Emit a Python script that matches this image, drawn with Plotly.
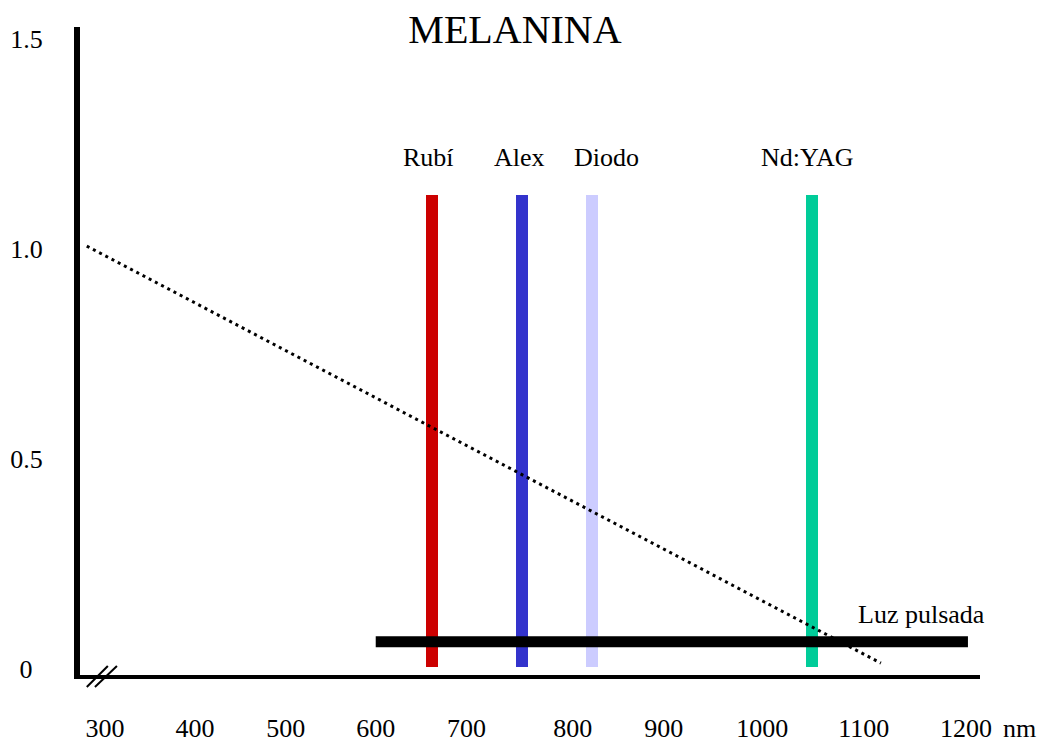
import plotly.graph_objects as go

# Lasers (schematic wavelength positions, nm) and their colours
laser_names = ["Rubí", "Alex", "Diodo", "Nd:YAG"]
laser_nm = [642, 736, 809, 1039]
laser_label_nm = [638, 733, 824, 1034]
laser_colors = ["#cc0000", "#3333cc", "#ccccff", "#00cc99"]
laser_low = [0.005, 0.005, 0.005, 0.005]
laser_high = [1.129, 1.129, 1.129, 1.129]

# Melanin absorption (dotted)
mel_nm = [281, 1111]
mel_abs = [1.007, 0.014]

# Intense pulsed light band
ipl_nm = [583, 1202]
ipl_level = [0.065, 0.065]
ipl_label = "Luz pulsada"

# Axes
x_tick_labels = ["300", "400", "500", "600", "700", "800", "900", "1000", "1100", "1200"]
x_tick_pos = [300, 394, 489, 583, 678, 789, 884, 987, 1093, 1200]
y_tick_vals = [0, 0.5, 1.0, 1.5]
y_tick_labels = ["0\u2009\u2009", "0.5", "1.0", "1.5"]

FONT = "Liberation Serif"

fig = go.Figure()

fig.add_trace(go.Bar(
    x=laser_nm,
    y=[h - l for h, l in zip(laser_high, laser_low)],
    base=laser_low,
    width=12.5,
    marker=dict(color=laser_colors, line=dict(width=0)),
    showlegend=False,
    hoverinfo="skip",
))

fig.add_trace(go.Scatter(
    x=mel_nm, y=mel_abs, mode="lines",
    line=dict(color="black", width=3, dash="3px,4px"),
    showlegend=False, hoverinfo="skip",
))

fig.add_trace(go.Scatter(
    x=ipl_nm, y=ipl_level, mode="lines",
    line=dict(color="black", width=11),
    showlegend=False, hoverinfo="skip",
))

annotations = []
for name, xl in zip(laser_names, laser_label_nm):
    annotations.append(dict(
        x=xl, y=1.219, xref="x", yref="y", text=name, showarrow=False,
        font=dict(family=FONT, size=26, color="black"),
        xanchor="center", yanchor="middle",
    ))
annotations.append(dict(
    x=1153, y=0.129, xref="x", yref="y", text=ipl_label, showarrow=False,
    font=dict(family=FONT, size=26, color="black"),
    xanchor="center", yanchor="middle",
))
annotations.append(dict(
    x=1.0444, y=-0.0833, xref="paper", yref="paper", text="nm", showarrow=False,
    font=dict(family=FONT, size=26, color="black"),
    xanchor="center", yanchor="middle",
))

# axis break mark "//"
shapes = []
for x0, x1 in [(281, 303), (289.5, 312.5)]:
    shapes.append(dict(
        type="line", xref="x", yref="paper",
        x0=x0, x1=x1, y0=-0.0185, y1=0.0139,
        line=dict(color="black", width=2),
    ))

fig.update_layout(
    width=1054, height=734,
    margin=dict(l=72, r=82, t=19, b=67, autoexpand=False),
    paper_bgcolor="white", plot_bgcolor="white",
    bargap=0,
    title=dict(
        text="MELANINA", x=507 / 1054, xanchor="center",
        y=1 - 21 / 734, yanchor="middle",
        font=dict(family=FONT, size=40, color="black"),
    ),
    xaxis=dict(
        range=[273.9, 1214.6],
        showgrid=False, zeroline=False, automargin=False,
        showline=True, linecolor="black", linewidth=3.5,
        tickmode="array", tickvals=x_tick_pos, ticktext=x_tick_labels,
        ticks="", ticklabelstandoff=27,
        tickfont=dict(family=FONT, size=26, color="black"),
    ),
    yaxis=dict(
        range=[-0.01429, 1.5286],
        showgrid=False, zeroline=False, automargin=False,
        showline=True, linecolor="black", linewidth=6,
        tickmode="array", tickvals=y_tick_vals, ticktext=y_tick_labels,
        ticks="", ticklabelstandoff=26,
        tickfont=dict(family=FONT, size=26, color="black"),
    ),
    annotations=annotations,
    shapes=shapes,
)

fig.write_html("out.html")
